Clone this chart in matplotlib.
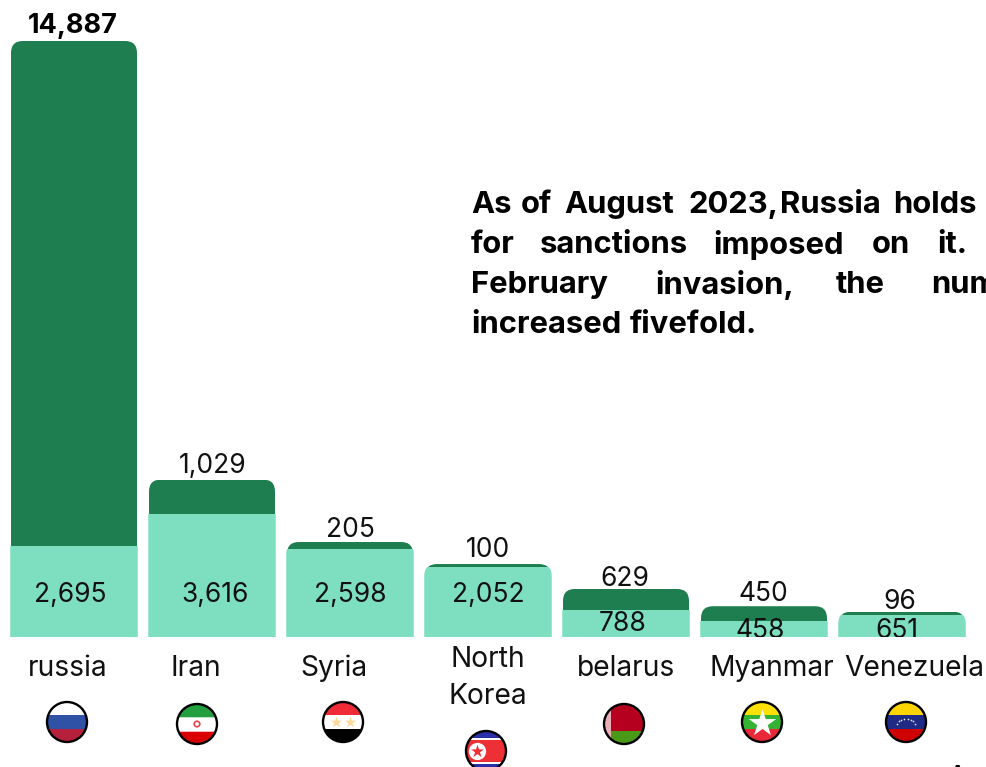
import numpy as np
import matplotlib
matplotlib.use('Agg')
import matplotlib.pyplot as plt
from matplotlib.patches import Circle, FancyBboxPatch, Rectangle
from matplotlib.transforms import IdentityTransform

countries = ['russia', 'Iran', 'Syria', 'North\nKorea', 'belarus', 'Myanmar', 'Venezuela']
before_2022 = [2695, 3616, 2598, 2052, 788, 458, 651]
after_2022 = [14887, 1029, 205, 100, 629, 450, 96]

total_labels = ['14,887', '1,029', '205', '100', '629', '450', '96']
base_labels = ['2,695', '3,616', '2,598', '2,052', '788', '458', '651']

DARK = '#1E7E50'
LIGHT = '#7EDFC0'
TEXT = '#111111'
FONT = 'Inter'

W, H = 986, 767
BASE_Y = 637

# label centres in pixels
total_xy = [(73, 26), (213, 466), (350, 530), (488, 550), (625, 579), (763, 594), (900, 602)]
base_xy = [(70, 595), (215, 595), (350, 595), (488, 595), (623, 624), (760, 631), (897, 631)]
name_xy = [(68, 668), (196, 668), (334, 668), (488, 678), (626, 668), (772, 668), (914, 668)]
flag_xy = [(67, 722), (197, 724), (343, 722), (486, 751), (624, 724), (762, 722), (906, 722)]

fig = plt.figure(figsize=(W / 100, H / 100), dpi=100)

ax = fig.add_axes([0, 1 - BASE_Y / H, 1, BASE_Y / H])
ax.set_xlim(-74 / 138, (W - 74) / 138)
ax.set_ylim(0, BASE_Y / 0.0339)
ax.axis('off')

px = fig.add_axes([0, 0, 1, 1])
px.set_xlim(0, W)
px.set_ylim(H, 0)
px.axis('off')
px.patch.set_alpha(0)

x = np.arange(len(countries))
bars_light = ax.bar(x, before_2022, width=127.5 / 138, color=LIGHT, linewidth=0)
bars_dark = ax.bar(x, after_2022, bottom=before_2022, width=126 / 138, color=DARK, linewidth=0)


def round_top(bar, top_value, r=12):
    # clip a bar to a box with rounded top corners, running past the baseline
    x0, y0 = ax.transData.transform((bar.get_x(), 0))
    x1, y1 = ax.transData.transform((bar.get_x() + bar.get_width(), top_value))
    box = FancyBboxPatch((x0 + r, y0 - 30), x1 - x0 - 2 * r, y1 - y0 + 30 - r,
                         boxstyle=f'round,pad={r},rounding_size={r}',
                         transform=IdentityTransform())
    bar.set_clip_path(box)


for i in range(len(countries)):
    top = before_2022[i] + after_2022[i]
    round_top(bars_light[i], top)
    round_top(bars_dark[i], top)

# values above the stacks
for i, (tx, ty) in enumerate(total_xy):
    px.text(tx, ty, total_labels[i], ha='center', va='center', fontsize=19.5 if i == 0 else 19,
            color='black' if i == 0 else TEXT, family=FONT, fontweight='bold' if i == 0 else 'normal')

# values inside the light bars, cut off at the baseline
for i, (tx, ty) in enumerate(base_xy):
    t = px.text(tx, ty, base_labels[i], ha='center', va='center', fontsize=19, color=TEXT, family=FONT)
    t.set_clip_box(ax.bbox)
    t.set_clip_on(True)

for i, (tx, ty) in enumerate(name_xy):
    px.text(tx, ty, countries[i], ha='center', va='center', fontsize=20.3, color=TEXT, family=FONT,
            linespacing=1.5)

# summary paragraph, justified by hand and running off the right edge
para_lines = [
    (205, [(471, 'As'), (521, 'of'), (564, 'August'), (688, '2023,'), (780, 'Russia'), (893, 'holds')]),
    (245, [(471, 'for'), (540, 'sanctions'), (713, 'imposed'), (872, 'on'), (937, 'it.')]),
    (285, [(471, 'February'), (655, 'invasion,'), (836, 'the'), (931, 'number')]),
    (325, [(471, 'increased'), (630, 'fivefold.')]),
]
for ty, words in para_lines:
    for wx, word in words:
        px.text(wx, ty, word, ha='left', va='center', fontsize=22.3, fontweight='bold', color='black', family=FONT)

px.text(957, 764.5, 'A', ha='center', va='top', fontsize=13, fontweight='bold', color='black', family=FONT)

# flag stripes top to bottom as (colour, share of height)
russia_flag = [('#FFFFFF', 1 / 3), ('#2F52A6', 1 / 3), ('#B5213C', 1 / 3)]
iran_flag = [('#239F40', 1 / 3), ('#FFFFFF', 1 / 3), ('#DA0000', 1 / 3)]
syria_flag = [('#EF2B38', 1 / 3), ('#FFFFFF', 1 / 3), ('#000000', 1 / 3)]
korea_flag = [('#2A2FA8', 0.17), ('#FFFFFF', 0.05), ('#EE2F36', 0.56), ('#FFFFFF', 0.05), ('#2A2FA8', 0.17)]
belarus_flag = [('#B5001F', 2 / 3), ('#4A9A1A', 1 / 3)]
myanmar_flag = [('#FEE100', 1 / 3), ('#34B233', 1 / 3), ('#EA2839', 1 / 3)]
venezuela_flag = [('#FFD500', 1 / 3), ('#1F2A85', 1 / 3), ('#CF0000', 1 / 3)]
flags = [russia_flag, iran_flag, syria_flag, korea_flag, belarus_flag, myanmar_flag, venezuela_flag]

R = 20
for (fx, fy), stripes in zip(flag_xy, flags):
    clip = Circle((fx, fy), R, transform=px.transData)
    y = fy - R
    for color, share in stripes:
        s = px.add_patch(Rectangle((fx - R, y), 2 * R, 2 * R * share + 0.3, color=color, linewidth=0, zorder=2))
        s.set_clip_path(clip)
        y += 2 * R * share

# flag emblems
for edge_y, edge_col in [(716.5, '#BFE3C8'), (730.5, '#F2B5B5')]:
    edge = px.add_patch(Rectangle((177, edge_y), 40, 1.2, color=edge_col, linewidth=0, zorder=3))
    edge.set_clip_path(Circle((197, 724), R, transform=px.transData))
px.scatter([197], [724], marker='o', s=16, facecolor='none', edgecolor='#E2494F', linewidth=1.2, zorder=3)
px.scatter([336, 350], [722, 722], marker='*', s=75, color='#FFD89B', linewidth=0, zorder=3)
px.scatter([477], [751], marker='o', s=155, color='white', linewidth=0, zorder=3)
px.scatter([477], [751], marker='*', s=95, color='#EE2F36', linewidth=0, zorder=4)
band = px.add_patch(Rectangle((604, 704), 7, 40, color='#E9AEB6', linewidth=0, zorder=3))
band.set_clip_path(Circle((624, 724), R, transform=px.transData))
px.scatter([762], [722.5], marker='*', s=430, color='#FBFBFB', linewidth=0, zorder=3)
arc = np.radians(np.linspace(25, 155, 8))
px.scatter(906 + 10 * np.cos(arc), 727 - 8 * np.sin(arc), marker='o', s=1.5, color='#E8E8F0', linewidth=0, zorder=3)

for fx, fy in flag_xy:
    px.add_patch(Circle((fx, fy), R, facecolor='none', edgecolor='black', linewidth=1.7, zorder=5))

fig.savefig('out.png', dpi=100)
